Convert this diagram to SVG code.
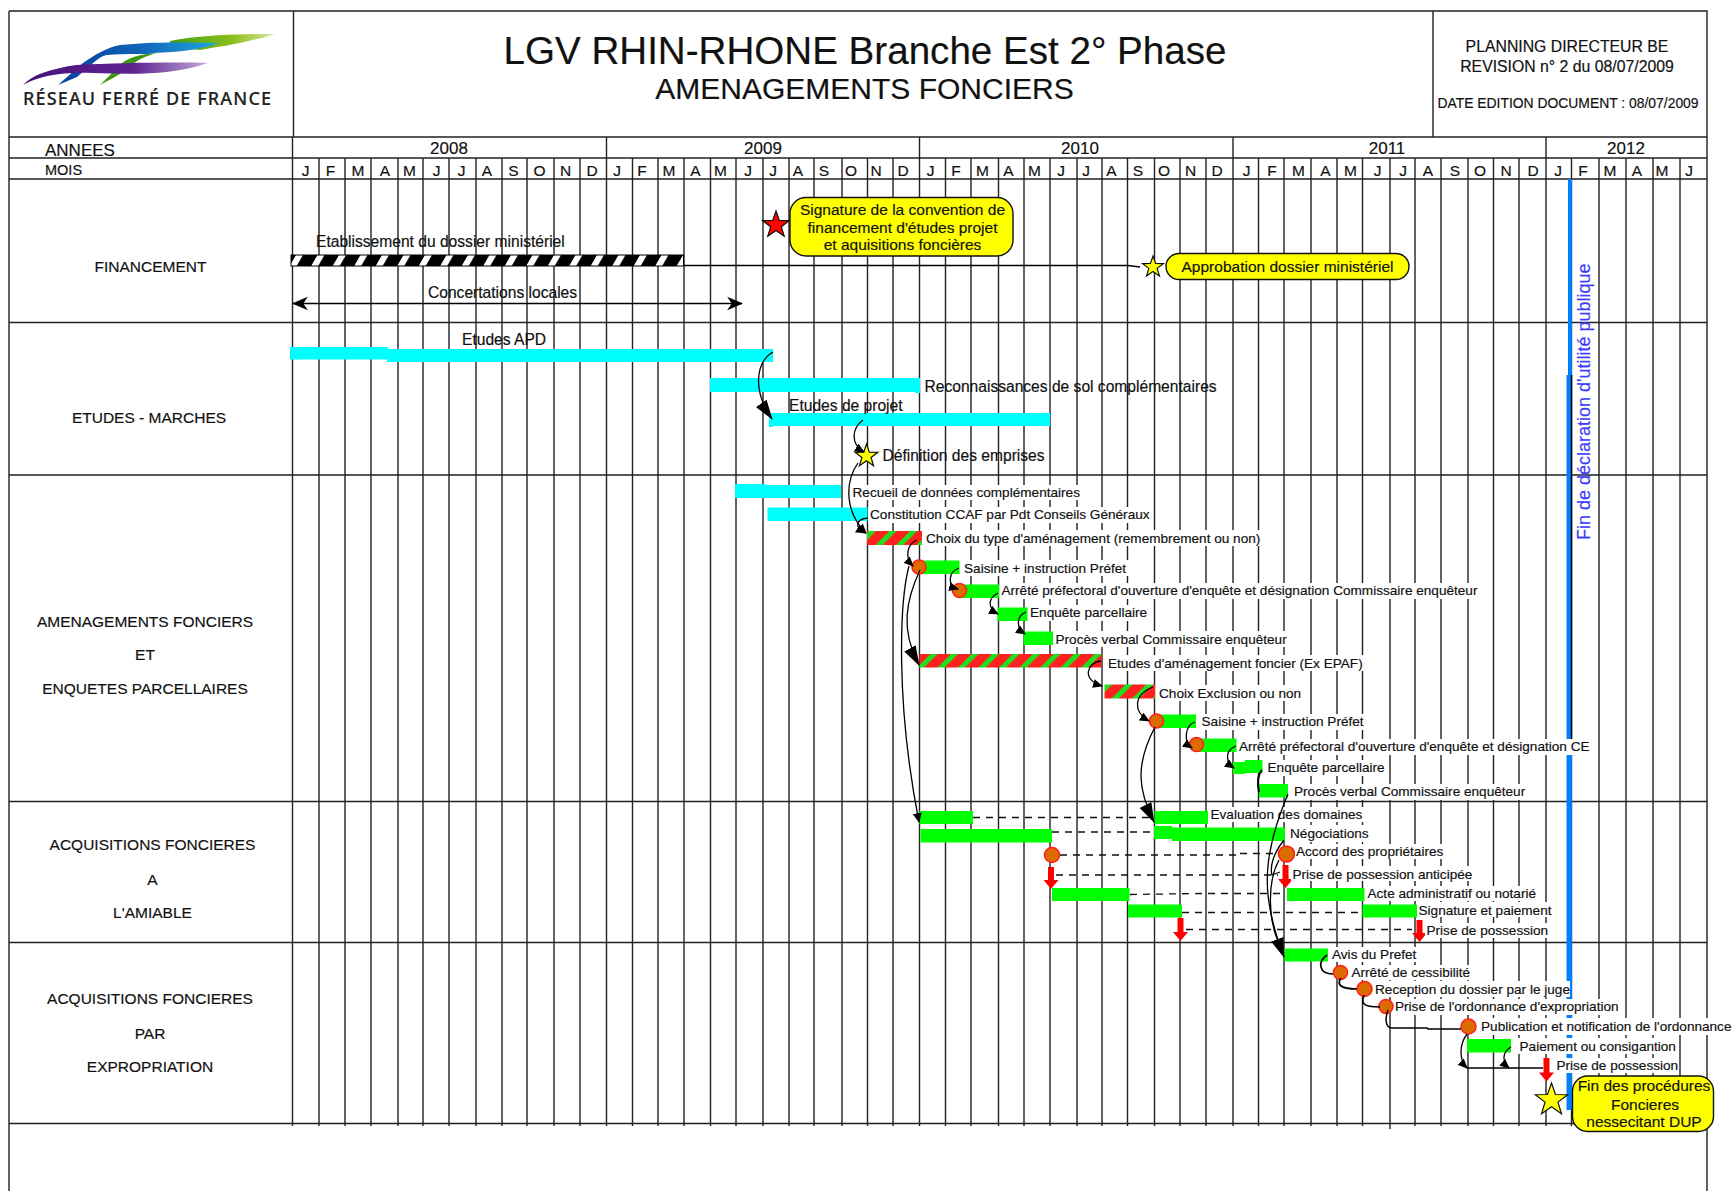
<svg xmlns="http://www.w3.org/2000/svg" width="1733" height="1191" viewBox="0 0 1733 1191">
<style>
text{font-family:"Liberation Sans",Arial,sans-serif;fill:#111;stroke:#111;stroke-width:.18}
.g{fill:none;stroke:#222;stroke-width:1.4}
.m{font-size:15.5px;text-anchor:middle}
.y{font-size:17px;text-anchor:middle}
.sec{font-size:15.5px;text-anchor:middle}
.up{font-size:15.6px}
.lb{font-size:13.6px}
.mask{fill:#fff}
.cy{fill:#00ffff}
.gr{fill:#00ff00}
.rg{fill:url(#redgreen)}
.dot{fill:#dc6c00;stroke:#ff2020;stroke-width:1.6}
.ar{fill:#ff0000}
.call{fill:#ffff00;stroke:#111;stroke-width:1.4}
.callt{font-size:15.5px;text-anchor:middle}
.sy{fill:#ffff00;stroke:#111;stroke-width:1.2}
.sr{fill:#ff0000;stroke:#111;stroke-width:1.2}
.c{fill:none;stroke:#000;stroke-width:1.3}
.ca{fill:none;stroke:#000;stroke-width:1.3;marker-end:url(#ah)}
.cb{fill:none;stroke:#000;stroke-width:1.3;marker-end:url(#ahb)}
.d{fill:none;stroke:#111;stroke-width:1.3;stroke-dasharray:7 6}
</style>
<defs>
<pattern id="hatch" patternUnits="userSpaceOnUse" width="21.5" height="11" patternTransform="translate(296,255) skewX(-30)"><rect width="21.5" height="11" fill="#000"/><rect width="7" height="11" fill="#fff"/></pattern>
<pattern id="redgreen" patternUnits="userSpaceOnUse" width="14.5" height="14.5" patternTransform="translate(870,530) rotate(45)"><rect width="14.5" height="14.5" fill="#ff2020"/><rect width="5" height="14.5" fill="#1fe01f"/></pattern>
<polygon id="star" vector-effect="non-scaling-stroke" points="0,-1 .235,-.324 .951,-.309 .38,.124 .588,.809 0,.4 -.588,.809 -.38,.124 -.951,-.309 -.235,-.324"/>
<marker id="st" markerUnits="userSpaceOnUse" markerWidth="16" markerHeight="16" refX="13" refY="7" orient="auto-start-reverse" viewBox="0 0 14 14"><path d="M0,1 L14,7 L0,13 L4,7 Z" fill="#000"/></marker>
<marker id="ah" markerUnits="userSpaceOnUse" markerWidth="10" markerHeight="9" refX="9" refY="4.5" orient="auto" viewBox="0 0 10 9"><path d="M0,0 L10,4.5 L0,9 Z" fill="#000"/></marker>
<marker id="ahb" markerUnits="userSpaceOnUse" markerWidth="20" markerHeight="15" refX="19" refY="7.5" orient="auto" viewBox="0 0 20 15"><path d="M0,1 L20,7.5 L0,14 Z" fill="#000"/></marker>
<linearGradient id="lgG" x1="0" x2="1" y1="0" y2="0"><stop offset="0" stop-color="#3f9f10"/><stop offset=".6" stop-color="#8ebf20"/><stop offset="1" stop-color="#dbe6a0"/></linearGradient>
<linearGradient id="lgB" x1="0" x2="1" y1="0" y2="0"><stop offset="0" stop-color="#0a3f9c"/><stop offset=".5" stop-color="#0f62b8"/><stop offset="1" stop-color="#22a8e0"/></linearGradient>
<linearGradient id="lgP" x1="0" x2="1" y1="0" y2="0"><stop offset="0" stop-color="#45107a"/><stop offset=".6" stop-color="#5f2490"/><stop offset="1" stop-color="#c0a8d8"/></linearGradient>
</defs>
<rect width="1733" height="1191" fill="#fff"/>

<g id="logo">
<path fill="url(#lgG)" d="M170,41 C200,35 240,34 275,34 C250,42 225,46 200,50 L170,47 Z"/>
<path fill="#3c9a12" d="M157,53 C140,54 128,58 122,63 L100,85 C115,77 128,70 133,64 C140,58 150,55 157,53 Z"/>
<path fill="url(#lgB)" d="M218,43 C170,42 150,42 120,45 C105,48 95,55 83,63 L58,85 L77,77 L93,63 C100,57 105,55 107,55 C125,53 150,55 153,53 C180,52 200,50 218,43 Z"/>
<path fill="url(#lgP)" d="M208,63 C170,62 120,63 76,65 C50,69 32,75 23,85 C40,76 60,72 93,73 C130,74 170,76 208,63 Z"/>
<text x="23" y="105" font-size="18" textLength="248" lengthAdjust="spacing" style="font-family:'Noto Sans','Liberation Sans',sans-serif;font-weight:500;fill:#222;stroke:#222">RÉSEAU FERRÉ DE FRANCE</text>
</g>

<g id="grid">
<path class="g" d="M9,11H1707V1191M9,11V1191M293.5,11V137M1433,11V137M9,137H1707M9,158H1707M9,179H1707M9,322.5H1707M9,475H1707M9,801.5H1707M9,942.5H1707M9,1123.5H1707M606.5,137V158M919.5,137V158M1233,137V158M1546,137V158"/>
<path class="g" d="M292.5,137V1126M319,158V1126M345,158V1126M371,158V1126M398,158V1126M423,158V1126M449,158V1126M476,158V1126M502,158V1126M527,158V1126M554,158V1126M580,158V1126M606.5,158V1126M632.5,158V1126M658,158V1126M684,158V1126M710.5,158V1126M736,158V1126M763,158V1126M789,158V1126M814,158V1126M842,158V1126M867.5,158V1126M893,158V1126M919.5,158V1126M945.5,158V1126M971,158V1126M998.5,158V1126M1024,158V1126M1050,158V1126M1077,158V1126M1102,158V1126M1127.5,158V1126M1154.5,158V1126M1180,158V1126M1206,158V1126M1233,158V1126M1258.5,158V1126M1284,158V1126M1311,158V1126M1337,158V1126M1362.5,158V1126M1390,158V1129M1415,158V1126M1441,158V1126M1468,158V1126M1493.5,158V1126M1519,158V1126M1546,158V1126M1571.5,158V1126M1599,158V1126M1626,158V1126M1653,158V1126M1680,158V1126"/>
</g>

<g id="header">
<text x="865" y="63.5" font-size="38.6" text-anchor="middle">LGV RHIN-RHONE Branche Est 2° Phase</text>
<text x="864.5" y="99" font-size="30" text-anchor="middle">AMENAGEMENTS FONCIERS</text>
<text x="1567" y="51.5" font-size="15.8" text-anchor="middle">PLANNING DIRECTEUR BE</text>
<text x="1567" y="71.5" font-size="15.8" text-anchor="middle">REVISION n° 2 du 08/07/2009</text>
<text x="1568" y="107.5" font-size="13.9" text-anchor="middle">DATE EDITION DOCUMENT : 08/07/2009</text>
</g>

<g id="timescale">
<text x="45" y="155.5" font-size="17">ANNEES</text>
<text x="45" y="175" font-size="14.5">MOIS</text>
<text class="y" x="449" y="154">2008</text><text class="y" x="763" y="154">2009</text><text class="y" x="1080" y="154">2010</text><text class="y" x="1387" y="154">2011</text><text class="y" x="1626" y="154">2012</text>
<text class="m" x="305.5" y="175.5">J</text><text class="m" x="330.5" y="175.5">F</text><text class="m" x="358" y="175.5">M</text><text class="m" x="385" y="175.5">A</text><text class="m" x="409.5" y="175.5">M</text><text class="m" x="436.5" y="175.5">J</text><text class="m" x="461.5" y="175.5">J</text><text class="m" x="487" y="175.5">A</text><text class="m" x="513.5" y="175.5">S</text><text class="m" x="539.5" y="175.5">O</text><text class="m" x="565.5" y="175.5">N</text><text class="m" x="592" y="175.5">D</text>
<text class="m" x="617" y="175.5">J</text><text class="m" x="642" y="175.5">F</text><text class="m" x="669" y="175.5">M</text><text class="m" x="695.5" y="175.5">A</text><text class="m" x="720.5" y="175.5">M</text><text class="m" x="748" y="175.5">J</text><text class="m" x="773" y="175.5">J</text><text class="m" x="798" y="175.5">A</text><text class="m" x="824" y="175.5">S</text><text class="m" x="851" y="175.5">O</text><text class="m" x="876" y="175.5">N</text><text class="m" x="903" y="175.5">D</text>
<text class="m" x="930.5" y="175.5">J</text><text class="m" x="956" y="175.5">F</text><text class="m" x="982.5" y="175.5">M</text><text class="m" x="1008.5" y="175.5">A</text><text class="m" x="1034.5" y="175.5">M</text><text class="m" x="1061" y="175.5">J</text><text class="m" x="1086" y="175.5">J</text><text class="m" x="1111.5" y="175.5">A</text><text class="m" x="1138" y="175.5">S</text><text class="m" x="1164" y="175.5">O</text><text class="m" x="1190.5" y="175.5">N</text><text class="m" x="1217" y="175.5">D</text>
<text class="m" x="1246.5" y="175.5">J</text><text class="m" x="1272" y="175.5">F</text><text class="m" x="1298.5" y="175.5">M</text><text class="m" x="1325.5" y="175.5">A</text><text class="m" x="1350.5" y="175.5">M</text><text class="m" x="1377.5" y="175.5">J</text><text class="m" x="1403" y="175.5">J</text><text class="m" x="1428" y="175.5">A</text><text class="m" x="1455" y="175.5">S</text><text class="m" x="1480" y="175.5">O</text><text class="m" x="1506" y="175.5">N</text><text class="m" x="1533" y="175.5">D</text>
<text class="m" x="1558" y="175.5">J</text><text class="m" x="1583" y="175.5">F</text><text class="m" x="1610" y="175.5">M</text><text class="m" x="1637" y="175.5">A</text><text class="m" x="1662" y="175.5">M</text><text class="m" x="1689" y="175.5">J</text>
</g>

<g id="sections">
<text class="sec" x="150.5" y="272">FINANCEMENT</text>
<text class="sec" x="149" y="423">ETUDES - MARCHES</text>
<text class="sec" x="145" y="626.5">AMENAGEMENTS FONCIERS</text><text class="sec" x="145" y="660">ET</text><text class="sec" x="145" y="694">ENQUETES PARCELLAIRES</text>
<text class="sec" x="152.5" y="850">ACQUISITIONS FONCIERES</text><text class="sec" x="152.5" y="885">A</text><text class="sec" x="152.5" y="918">L'AMIABLE</text>
<text class="sec" x="150" y="1004">ACQUISITIONS FONCIERES</text><text class="sec" x="150" y="1039">PAR</text><text class="sec" x="150" y="1072">EXPROPRIATION</text>
</g>

<g id="dup-line">
<path fill="#0080ff" d="M1568,179H1572V375H1571V739H1572V1110H1566.5V375H1568Z"/>
<path d="M1571.5,375V739" stroke="#000" stroke-width="1.4"/>
<text x="1590" y="540" font-size="18" transform="rotate(-90 1590 540)" style="fill:#3c3cff;stroke:#3c3cff">Fin de déclaration d'utilité publique</text>
</g>

<g id="n-dossier"><rect x="291" y="255" width="392.5" height="11" fill="url(#hatch)" stroke="#000" stroke-width="1"/><text class="up" x="316" y="246.5">Etablissement du dossier ministériel</text></g>
<g id="n-concert"><text class="up" x="428" y="298">Concertations locales</text></g>
<g id="n-signature"><use href="#star" class="sr" transform="translate(776,225) scale(14)"/><rect class="call" x="790" y="197.5" width="223" height="58.5" rx="16"/><text class="callt" x="902.5" y="215">Signature de la convention de</text><text class="callt" x="902.5" y="233">financement d'études projet</text><text class="callt" x="902.5" y="249.5">et aquisitions foncières</text></g>
<g id="n-approb"><use href="#star" class="sy" transform="translate(1153,267) scale(11)"/><rect class="call" x="1166" y="253.5" width="243" height="26" rx="13"/><text class="callt" x="1287.5" y="272">Approbation dossier ministériel</text></g>
<g id="n-apd"><path class="cy" d="M290,347H388V349H773V362H387V359.5H290Z"/><text class="up" x="462" y="345">Etudes APD</text></g>
<g id="n-recon"><path class="cy" d="M710,378H920V393H915V392H710Z"/><text class="up" x="924.5" y="392">Reconnaissances de sol complémentaires</text></g>
<g id="n-projet"><path class="cy" d="M769,413H1050V426H773V427H769Z"/><text class="up" x="789" y="411">Etudes de projet</text></g>
<g id="n-emprises"><use href="#star" class="sy" transform="translate(866.5,456) scale(12)"/><text class="up" x="882.5" y="460.5">Définition des emprises</text></g>

<g id="n-recueil"><path class="cy" d="M735,484H765V485H841V498H735Z"/><rect class="mask" x="851" y="485" width="231" height="15"/><text class="lb" x="852.5" y="496.5">Recueil de données complémentaires</text></g>
<g id="n-ccaf"><rect class="cy" x="767.5" y="507.5" width="100" height="13.5"/><rect class="mask" x="868" y="507" width="283" height="16"/><text class="lb" x="870" y="519">Constitution CCAF par Pdt Conseils Généraux</text></g>
<g id="n-choix"><rect class="rg" x="867" y="531" width="55" height="14"/><rect class="mask" x="924" y="530" width="338" height="16"/><text class="lb" x="926" y="542.5">Choix du type d'aménagement (remembrement ou non)</text></g>
<g id="n-saisine"><rect class="gr" x="919" y="560.5" width="40.5" height="13.5"/><circle class="dot" cx="919" cy="567" r="7"/><rect class="mask" x="962" y="560" width="167" height="16"/><text class="lb" x="964" y="572.5">Saisine + instruction Préfet</text></g>
<g id="n-arrete"><rect class="gr" x="959" y="584.5" width="40" height="13.5"/><circle class="dot" cx="959.5" cy="590.5" r="7"/><rect class="mask" x="1000" y="583" width="479" height="16"/><text class="lb" x="1001.5" y="595">Arrêté préfectoral d'ouverture d'enquête et désignation Commissaire enquêteur</text></g>
<g id="n-enquete"><rect class="gr" x="997.5" y="607.5" width="30" height="13.5"/><rect class="mask" x="1028" y="605" width="121" height="16"/><text class="lb" x="1030" y="617">Enquête parcellaire</text></g>
<g id="n-pv"><rect class="gr" x="1023.5" y="631.5" width="29.5" height="13.5"/><rect class="mask" x="1054" y="631" width="234" height="16"/><text class="lb" x="1055.5" y="643.5">Procès verbal Commissaire enquêteur</text></g>
<g id="n-epaf"><rect class="rg" x="919.5" y="654" width="182" height="13.5"/><rect class="mask" x="1106" y="655" width="261" height="16"/><text class="lb" x="1108" y="667.5">Etudes d'aménagement foncier (Ex EPAF)</text></g>
<g id="n-exclu"><rect class="rg" x="1104.5" y="684.5" width="50.5" height="14"/><rect class="mask" x="1157" y="685" width="145" height="16"/><text class="lb" x="1159" y="697.5">Choix Exclusion ou non</text></g>
<g id="n-saisine2"><rect class="gr" x="1156.5" y="714.5" width="39.5" height="13.5"/><circle class="dot" cx="1156.5" cy="721" r="7"/><rect class="mask" x="1199" y="714" width="166" height="16"/><text class="lb" x="1201.5" y="726">Saisine + instruction Préfet</text></g>
<g id="n-arrete2"><rect class="gr" x="1196.5" y="738.5" width="40" height="13.5"/><circle class="dot" cx="1196.5" cy="744.5" r="7"/><rect class="mask" x="1238" y="739" width="354" height="16"/><text class="lb" x="1239" y="751">Arrêté préfectoral d'ouverture d'enquête et désignation CE</text></g>
<g id="n-enquete2"><path class="gr" d="M1233,762H1245V760H1262.5V773H1245V774H1233Z"/><rect class="mask" x="1266" y="760" width="120" height="16"/><text class="lb" x="1267.5" y="771.5">Enquête parcellaire</text></g>
<g id="n-pv2"><rect class="gr" x="1259" y="784" width="29" height="13.5"/><rect class="mask" x="1292" y="784" width="235" height="16"/><text class="lb" x="1294" y="795.5">Procès verbal Commissaire enquêteur</text></g>

<g id="n-eval"><rect class="gr" x="919.5" y="811" width="53.5" height="13"/><rect class="gr" x="1154.5" y="811" width="53.5" height="13"/><rect class="mask" x="1209" y="807" width="155" height="15"/><path class="d" d="M973,817.5H1154"/><text class="lb" x="1210.5" y="818.5">Evaluation des domaines</text></g>
<g id="n-nego"><rect class="gr" x="920.5" y="829" width="131.5" height="13.5"/><path class="gr" d="M1154,826H1172V827.5H1285V841H1172V839H1154Z"/><rect class="mask" x="1288" y="825" width="82" height="17"/><path class="d" d="M1052,832H1154"/><text class="lb" x="1290" y="838">Négociations</text></g>
<g id="n-accord"><circle class="dot" cx="1052" cy="855" r="7.5"/><circle class="dot" cx="1286.5" cy="854" r="8"/><rect class="mask" x="1295" y="844" width="149" height="15"/><path class="d" d="M1060,855L1240,855M1240,853.5H1278"/><text class="lb" x="1296" y="856">Accord des propriétaires</text></g>
<g id="n-anticip"><path class="ar" d="M1048,867H1054V880H1058.5L1051,889L1043.5,880H1048Z"/><path class="ar" d="M1282.5,865H1288.5V879H1293L1285.5,888L1278,879H1282.5Z"/><rect class="mask" x="1291" y="866" width="183" height="15"/><path class="d" d="M1056,875H1278"/><text class="lb" x="1292.5" y="878.5">Prise de possession anticipée</text></g>
<g id="n-acte"><rect class="gr" x="1052" y="888" width="77.5" height="13"/><rect class="gr" x="1287" y="888" width="77.5" height="13"/><rect class="mask" x="1366" y="886" width="171" height="15"/><path class="d" d="M1130,894.5L1200,893.5H1286"/><text class="lb" x="1367.5" y="898">Acte administratif ou notarié</text></g>
<g id="n-sign"><rect class="gr" x="1128" y="904.5" width="54" height="13"/><rect class="gr" x="1362.5" y="904.5" width="54.5" height="13"/><rect class="mask" x="1418" y="902" width="135" height="15"/><path class="d" d="M1182,912.5H1362"/><text class="lb" x="1418.5" y="915">Signature et paiement</text></g>
<g id="n-prise"><path class="ar" d="M1177.5,918H1183.5V932H1188L1180.5,941L1173,932H1177.5Z"/><path class="ar" d="M1416.5,920H1422.5V933H1427L1419.5,942L1412,933H1416.5Z"/><rect class="mask" x="1425" y="923" width="125" height="15"/><path class="d" d="M1186,929.5H1412"/><text class="lb" x="1426.5" y="935">Prise de possession</text></g>

<g id="n-avis"><rect class="gr" x="1284.5" y="948.5" width="43.5" height="13"/><rect class="mask" x="1330" y="947" width="89" height="15"/><text class="lb" x="1332" y="959">Avis du Prefet</text></g>
<g id="n-cess"><circle class="dot" cx="1340.5" cy="972.5" r="7"/><rect class="mask" x="1350" y="965" width="121" height="15"/><text class="lb" x="1351.5" y="977">Arrêté de cessibilité</text></g>
<g id="n-recep"><circle class="dot" cx="1364.5" cy="989" r="7.5"/><rect class="mask" x="1373" y="981" width="197" height="16"/><text class="lb" x="1375" y="993.5">Reception du dossier par le juge</text></g>
<g id="n-ordo"><circle class="dot" cx="1386" cy="1006.5" r="7"/><rect class="mask" x="1394" y="999" width="226" height="16"/><text class="lb" x="1395" y="1011">Prise de l'ordonnance d'expropriation</text></g>
<g id="n-publi"><circle class="dot" cx="1468.5" cy="1026.5" r="7.5"/><rect class="mask" x="1479" y="1018" width="254" height="17"/><text class="lb" x="1481" y="1031">Publication et notification de l'ordonnance</text></g>
<g id="n-paiement"><rect class="gr" x="1467" y="1039" width="44" height="13.5"/><rect class="mask" x="1518" y="1038" width="160" height="16"/><text class="lb" x="1519.5" y="1051">Paiement ou consigantion</text></g>
<g id="n-prise2"><path class="ar" d="M1543.5,1058H1549.5V1072.5H1554L1546.5,1081.5L1539,1072.5H1543.5Z"/><rect class="mask" x="1555" y="1058" width="124" height="15"/><text class="lb" x="1556.5" y="1070">Prise de possession</text></g>
<g id="n-fin"><use href="#star" class="sy" transform="translate(1551.5,1100) scale(17)"/><rect class="call" x="1572.5" y="1076" width="141" height="55.5" rx="15"/><text class="callt" x="1644" y="1091">Fin des procédures</text><text class="callt" x="1645" y="1110">Foncieres</text><text class="callt" x="1644" y="1127">nessecitant DUP</text></g>

<g id="connectors">
<path class="c" d="M684,265.5H1128L1140,267" />
<path class="c" d="M293,303.5H742" marker-start="url(#st)" marker-end="url(#st)"/>
<path class="cb" d="M773,352C756,362 752,390 772,419"/>
<path class="ca" d="M863,420C852,428 850,444 864,452"/>
<path class="ca" d="M858,463C846,480 843,510 866,533"/>
<path class="ca" d="M868,518C857,519 853,526 865,533"/>
<path class="ca" d="M917,540C906,545 905,558 913,566"/>
<path class="cb" d="M920,570C906,600 900,630 919,665"/>
<path class="ca" d="M909,566C900,600 895,700 919,822"/>
<path class="ca" d="M959,568C948,572 947,586 958,589"/>
<path class="ca" d="M998,593C988,598 987,608 998,614"/>
<path class="ca" d="M1026,612C1016,616 1016,628 1025,634"/>
<path class="ca" d="M1101,661C1087,662 1081,680 1102,686"/>
<path class="ca" d="M1153,687C1133,695 1133,712 1149,721"/>
<path class="cb" d="M1155,727C1135,765 1138,790 1154,822"/>
<path class="ca" d="M1195,722C1185,725 1183,742 1192,748"/>
<path class="ca" d="M1236,746C1225,750 1225,762 1234,768"/>
<path class="c" d="M1262,770C1257,775 1257,782 1259,792" style="stroke-width:2"/>
<path class="cb" d="M1288,794C1260,860 1262,900 1284,957"/>
<path class="c" d="M1284,840C1272,855 1270,868 1272,875L1280,872"/>
<path class="c" d="M1279,860C1268,880 1266,920 1282,950"/>
<path class="c" d="M1327,955C1317,962 1319,974 1333,974" style="stroke-width:1.7"/>
<path class="c" d="M1341,978C1337,984 1339,989 1357,989" style="stroke-width:1.7"/>
<path class="c" d="M1364,995C1361,1003 1362,1007 1380,1007" style="stroke-width:1.7"/>
<path class="c" d="M1388,1010C1385,1018 1385,1028 1392,1028H1427L1428,1029H1461" style="stroke-width:1.5"/>
<path class="ca" d="M1467,1034C1459,1045 1459,1060 1467,1068"/>
<path class="c" d="M1467,1068H1543"/>
<path class="ca" d="M1511,1047C1502,1052 1502,1062 1509,1068"/>
</g>
</svg>
